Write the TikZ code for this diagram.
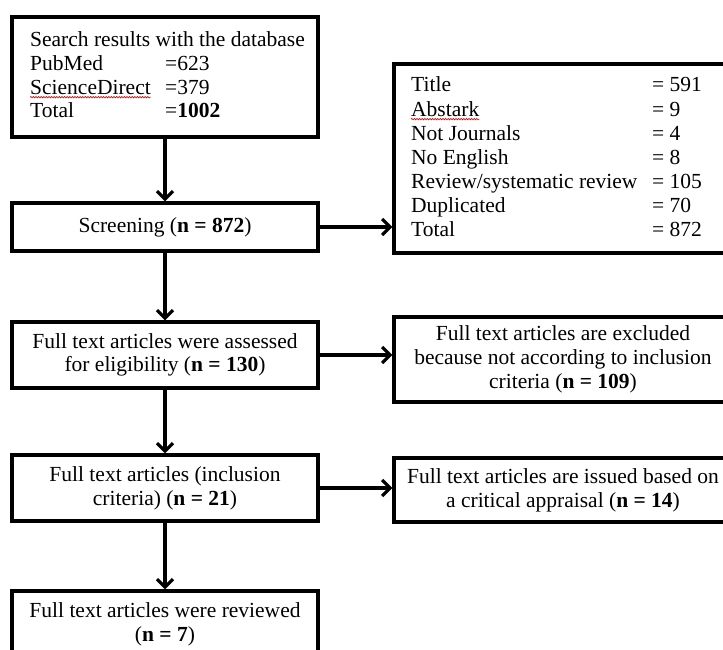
\documentclass[tikz,border=0pt]{standalone}
\usepackage{fontspec}
\setmainfont{Liberation Serif}
\usetikzlibrary{arrows.meta,decorations.pathmorphing}

\begin{document}
\begin{tikzpicture}[
  x=1pt, y=-1pt,
  every node/.style={font=\fontsize{21.5}{23.7}\selectfont},
  box/.style={draw, line width=3.3pt, inner sep=0pt, align=center},
  txt/.style={anchor=base west, inner sep=0pt},
  arrow/.style={line width=3.2pt, -{Straight Barb[length=8pt,width=16pt]}},
  squig/.style={draw=red!85!black, line width=0.6pt, decorate, decoration={snake, amplitude=0.8pt, segment length=2.6pt}}
]
\useasboundingbox (0,0) rectangle (723,650);
\clip (0,0) rectangle (723,650);

% left column
\node[box, minimum width=306pt, minimum height=120pt] (search) at (165,77) {};
\node[box, minimum width=306pt, minimum height=48pt] (screen) at (165,227) {Screening (\textbf{n = 872})};
\node[box, minimum width=306pt, minimum height=66pt] (assess) at (165,355) {Full text articles were assessed\\for eligibility (\textbf{n = 130})};
\node[box, minimum width=306pt, minimum height=66pt] (incl) at (165,488) {Full text articles (inclusion\\criteria) (\textbf{n = 21})};
\node[box, minimum width=306pt, minimum height=66pt] (review) at (165,624) {Full text articles were reviewed\\(\textbf{n = 7})};

% right column
\node[box, minimum width=338pt, minimum height=189pt] (reasons) at (563,158.5) {};
\node[box, minimum width=338pt, minimum height=85pt] (excl) at (563,359.5) {Full text articles are excluded\\because not according to inclusion\\criteria (\textbf{n = 109})};
\node[box, minimum width=338pt, minimum height=64pt] (issued) at (563,490) {Full text articles are issued based on\\a critical appraisal (\textbf{n = 14})};

% database counts
\node[txt] (dbhead) at (30,47) {Search results with the database};
\foreach \lbl/\val [count=\i] in {PubMed/=623, ScienceDirect/=379, Total/=\textbf{1002}} {
  \node[txt] (src\i) at (30,{46.8+23.7*\i}) {\lbl};
  \node[txt] (srcn\i) at (165,{46.8+23.7*\i}) {\val};
}
\draw[squig] ([yshift=-3pt]src2.base west) -- ([yshift=-3pt]src2.base east);

% screening reasons
\foreach \lbl/\val [count=\i from 0] in {Title/591, Abstark/9, Not Journals/4, No English/8, {Review/systematic review}/105, Duplicated/70, Total/872} {
  \node[txt] (why\i) at (411,{92+24.15*\i}) {\lbl};
  \node[txt] (whyn\i) at (652,{92+24.15*\i}) {= \val};
}
\draw[squig] ([yshift=-3pt]why1.base west) -- ([yshift=-3pt]why1.base east);

% connectors
\draw[arrow] (search) -- (screen);
\draw[arrow] (screen) -- (assess);
\draw[arrow] (assess) -- (incl);
\draw[arrow] (incl) -- (review);
\draw[arrow] (screen.east) -- (screen.east -| reasons.west);
\draw[arrow] (assess.east) -- (assess.east -| excl.west);
\draw[arrow] (incl.east) -- (incl.east -| issued.west);
\end{tikzpicture}
\end{document}
